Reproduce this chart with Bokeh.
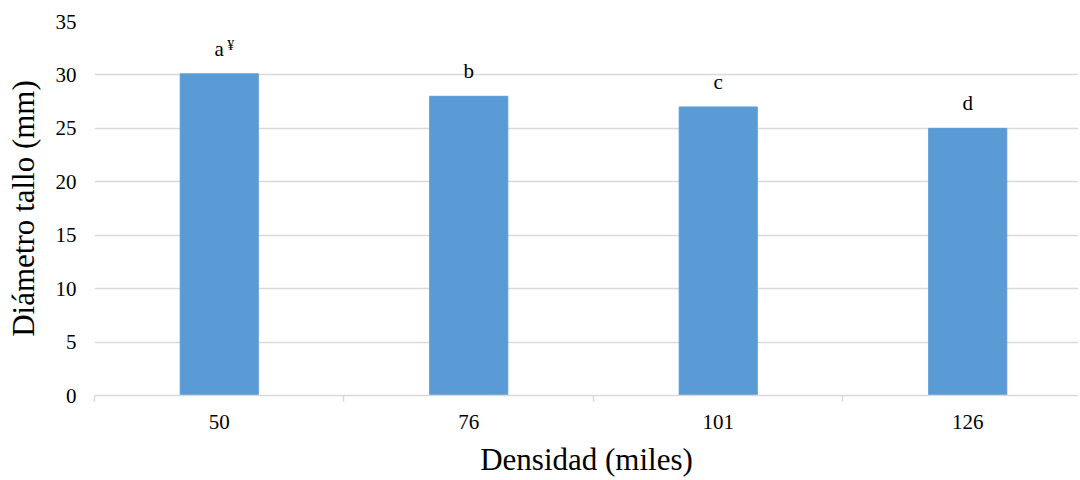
from bokeh.plotting import figure
from bokeh.models import ColumnDataSource, FixedTicker, Range1d
from bokeh.core.properties import value
from bokeh.embed import file_html
from bokeh.resources import INLINE

categories = ["50", "76", "101", "126"]
diametro = [30.1, 28.0, 27.0, 25.0]
letras = ["a", "b", "c", "d"]
superindice = ["\u00a5", "", "", ""]
y_ticks = [0, 5, 10, 15, 20, 25, 30, 35]

FONT = "'Liberation Serif', 'Times New Roman', serif"
xs = [i + 0.5 for i in range(len(categories))]

src = ColumnDataSource(dict(x=xs, y=diametro, lab=letras, sup=superindice))

# the original plot area runs past the right edge of the image, so the
# visible x range stops a little short of the last category boundary
p = figure(width=1078, height=479, output_backend="svg", toolbar_location=None,
           x_range=Range1d(0, 3.944), y_range=Range1d(0, 35),
           min_border_left=94, min_border_right=0, min_border_top=21, min_border_bottom=80)
p.outline_line_color = None
p.background_fill_color = "white"
p.border_fill_color = "white"

p.vbar(x="x", top="y", width=0.313, bottom=0, source=src,
       fill_color="#5B9BD5", line_color="#5B9BD5")

p.text(x="x", y="y", text="lab", source=src, text_align="center", text_baseline="bottom",
       y_offset=-13, text_font=value(FONT), text_font_size="21px", text_color="black")
p.text(x="x", y="y", text="sup", source=src, text_align="left", text_baseline="bottom",
       x_offset=8, y_offset=-21, text_font=value(FONT), text_font_size="14px", text_color="black")

# y axis
p.yaxis.ticker = FixedTicker(ticks=y_ticks)
p.yaxis.axis_line_color = None
p.yaxis.major_tick_line_color = None
p.yaxis.minor_tick_line_color = None
p.yaxis.major_tick_out = 0
p.yaxis.major_label_standoff = 18
p.yaxis.major_label_text_font = FONT
p.yaxis.major_label_text_font_size = "21px"
p.yaxis.major_label_text_color = "black"
p.yaxis.axis_label = "Diámetro tallo (mm)"
p.yaxis.axis_label_text_font = FONT
p.yaxis.axis_label_text_font_size = "31px"
p.yaxis.axis_label_text_font_style = "normal"
p.yaxis.axis_label_text_color = "black"
p.yaxis.axis_label_standoff = 12

# x axis
p.xaxis.ticker = FixedTicker(ticks=xs, minor_ticks=list(range(len(categories) + 1)))
p.xaxis.major_label_overrides = {x: c for x, c in zip(xs, categories)}
p.xaxis.axis_line_color = "#d9d9d9"
p.xaxis.axis_line_width = 1.5
p.xaxis.major_tick_line_color = None
p.xaxis.major_tick_out = 0
p.xaxis.major_tick_in = 0
p.xaxis.minor_tick_line_color = "#d9d9d9"
p.xaxis.minor_tick_line_width = 1.5
p.xaxis.minor_tick_out = 6
p.xaxis.minor_tick_in = 0
p.xaxis.major_label_standoff = 13
p.xaxis.major_label_text_font = FONT
p.xaxis.major_label_text_font_size = "21px"
p.xaxis.major_label_text_color = "black"
p.xaxis.axis_label = "Densidad (miles)"
p.xaxis.axis_label_text_font = FONT
p.xaxis.axis_label_text_font_size = "31px"
p.xaxis.axis_label_text_font_style = "normal"
p.xaxis.axis_label_text_color = "black"
p.xaxis.axis_label_standoff = 10

p.xgrid.grid_line_color = None
p.ygrid.grid_line_color = "#d9d9d9"
p.ygrid.grid_line_width = 1.5

open("out.html", "w").write(file_html(p, INLINE))
